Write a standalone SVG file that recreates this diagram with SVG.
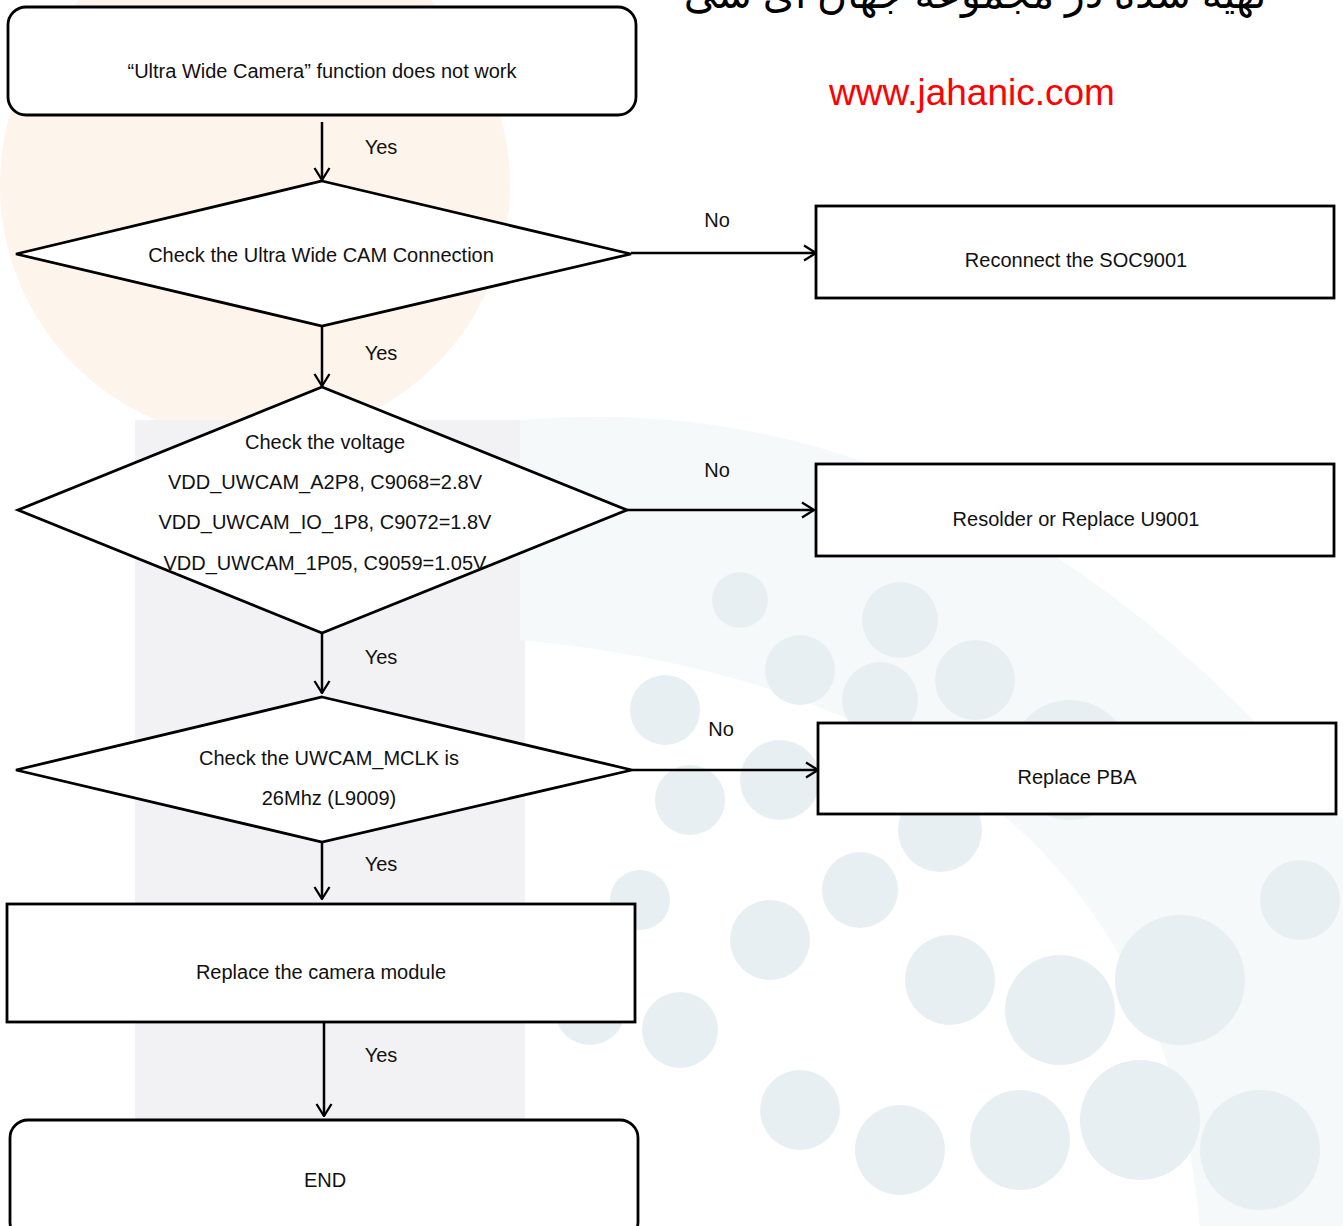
<svg xmlns="http://www.w3.org/2000/svg" width="1343" height="1226" viewBox="0 0 1343 1226">
<style>
.shape{fill:#fff;stroke:#000;stroke-width:2.8}
.lbl{font-family:"Liberation Sans",Arial,sans-serif;font-size:20px;fill:#111;text-anchor:middle}
.edge{stroke:#000;stroke-width:2.5;fill:none}
</style>
<defs>
<marker id="arr" viewBox="0 0 14 18" refX="13" refY="9" markerWidth="14" markerHeight="18" markerUnits="userSpaceOnUse" orient="auto">
<path d="M1,1.5 L13,9 L1,16.5" fill="none" stroke="#000" stroke-width="2.3"/>
</marker>
</defs>
<rect width="1343" height="1226" fill="#fff"/>
<g id="watermark">
<circle cx="255" cy="185" r="255" fill="#fdf4eb"/>
<rect x="135" y="420" width="390" height="806" fill="#f2f2f5"/>
<path d="M520,420 Q980,380 1343,820 L1343,1226 L1200,1226 Q1150,700 520,640 Z" fill="#f5f9fa"/>
<g fill="#e8eff2">
<circle cx="740" cy="600" r="28"/><circle cx="900" cy="620" r="38"/><circle cx="800" cy="670" r="35"/>
<circle cx="665" cy="710" r="35"/><circle cx="880" cy="700" r="38"/><circle cx="975" cy="680" r="40"/>
<circle cx="780" cy="780" r="40"/><circle cx="690" cy="800" r="35"/><circle cx="940" cy="830" r="42"/>
<circle cx="1070" cy="760" r="60"/><circle cx="770" cy="940" r="40"/><circle cx="860" cy="890" r="38"/>
<circle cx="640" cy="900" r="30"/><circle cx="590" cy="1010" r="35"/><circle cx="680" cy="1030" r="38"/>
<circle cx="950" cy="980" r="45"/><circle cx="1060" cy="1010" r="55"/><circle cx="1180" cy="980" r="65"/>
<circle cx="800" cy="1110" r="40"/><circle cx="900" cy="1150" r="45"/><circle cx="1020" cy="1140" r="50"/>
<circle cx="1140" cy="1120" r="60"/><circle cx="1260" cy="1150" r="60"/><circle cx="1300" cy="900" r="40"/>
</g>
</g>
<g id="header">
<text x="975" y="8" font-family="'Noto Sans','DejaVu Sans',sans-serif" font-size="41" text-anchor="middle" direction="rtl" fill="#000">تهیه شده در مجموعه جهان ای سی</text>
<text x="972" y="105" font-family="'Liberation Sans',Arial,sans-serif" font-size="37" text-anchor="middle" fill="#f00">www.jahanic.com</text>
</g>
<g id="connectors">
<line class="edge" x1="322" y1="122" x2="322" y2="180" marker-end="url(#arr)"/>
<line class="edge" x1="631" y1="253" x2="816" y2="253" marker-end="url(#arr)"/>
<line class="edge" x1="322" y1="326" x2="322" y2="386" marker-end="url(#arr)"/>
<line class="edge" x1="627" y1="510" x2="814" y2="510" marker-end="url(#arr)"/>
<line class="edge" x1="322" y1="633" x2="322" y2="693" marker-end="url(#arr)"/>
<line class="edge" x1="632" y1="770" x2="818" y2="770" marker-end="url(#arr)"/>
<line class="edge" x1="322" y1="842" x2="322" y2="899" marker-end="url(#arr)"/>
<line class="edge" x1="324" y1="1022" x2="324" y2="1116" stroke-width="2" marker-end="url(#arr)"/>
<text class="lbl" x="381" y="154">Yes</text>
<text class="lbl" x="381" y="360">Yes</text>
<text class="lbl" x="381" y="664">Yes</text>
<text class="lbl" x="381" y="871">Yes</text>
<text class="lbl" x="381" y="1062">Yes</text>
<text class="lbl" x="717" y="227">No</text>
<text class="lbl" x="717" y="477">No</text>
<text class="lbl" x="721" y="736">No</text>
</g>
<g id="start">
<rect class="shape" x="8" y="7" width="628" height="108" rx="18"/>
<text class="lbl" x="322" y="78">“Ultra Wide Camera” function does not work</text>
</g>
<g id="check-connection">
<polygon class="shape" points="322,181 631,254 322,326 16,254"/>
<text class="lbl" x="321" y="262">Check the Ultra Wide CAM Connection</text>
</g>
<g id="reconnect">
<rect class="shape" x="816" y="206" width="518" height="92"/>
<text class="lbl" x="1076" y="267">Reconnect the SOC9001</text>
</g>
<g id="check-voltage">
<polygon class="shape" points="322,387 627,510 322,633 18,510"/>
<text class="lbl" x="325" y="449">Check the voltage</text>
<text class="lbl" x="325" y="489">VDD_UWCAM_A2P8, C9068=2.8V</text>
<text class="lbl" x="325" y="529">VDD_UWCAM_IO_1P8, C9072=1.8V</text>
<text class="lbl" x="325" y="570">VDD_UWCAM_1P05, C9059=1.05V</text>
</g>
<g id="resolder">
<rect class="shape" x="816" y="464" width="518" height="92"/>
<text class="lbl" x="1076" y="526">Resolder or Replace U9001</text>
</g>
<g id="check-mclk">
<polygon class="shape" points="322,697 632,770 322,842 16,770"/>
<text class="lbl" x="329" y="765">Check the UWCAM_MCLK is</text>
<text class="lbl" x="329" y="805">26Mhz (L9009)</text>
</g>
<g id="replace-pba">
<rect class="shape" x="818" y="723" width="518" height="91"/>
<text class="lbl" x="1077" y="784">Replace PBA</text>
</g>
<g id="replace-module">
<rect class="shape" x="7" y="904" width="628" height="118"/>
<text class="lbl" x="321" y="979">Replace the camera module</text>
</g>
<g id="end">
<rect class="shape" x="10" y="1120" width="628" height="120" rx="18"/>
<text class="lbl" x="325" y="1187">END</text>
</g>
</svg>
